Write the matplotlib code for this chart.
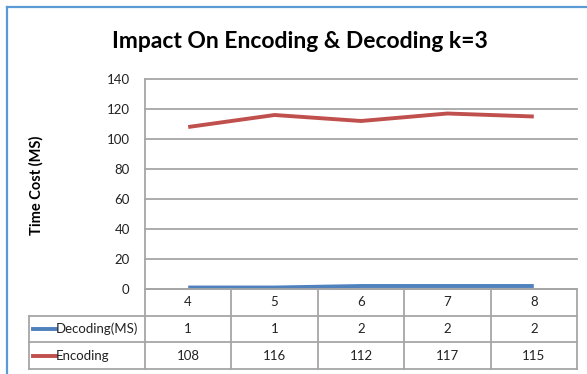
import matplotlib.pyplot as plt
from matplotlib.lines import Line2D

# Chart data
k_values = ['4', '5', '6', '7', '8']
decoding_ms = [1, 1, 2, 2, 2]
encoding_ms = [108, 116, 112, 117, 115]
series_names = ['Decoding(MS)', 'Encoding']
y_ticks = [0, 20, 40, 60, 80, 100, 120, 140]

title_text = 'Impact On Encoding & Decoding k=3'
ylabel_text = 'Time Cost (MS)'

BLUE = '#4F81BD'
RED = '#C0504D'
GRID = '#A6A6A6'
FONT = ['Lato', 'DejaVu Sans']

W, H = 587, 374
fig = plt.figure(figsize=(W / 100, H / 100), dpi=100)


def box(left, top, right, bottom):
    return [left / W, 1 - bottom / H, (right - left) / W, (bottom - top) / H]


# Outer chart frame
fig.add_artist(Line2D([6.5 / W, 6.5 / W], [0, 1 - 6.5 / H], color='#5B9BD5', lw=1.6))
fig.add_artist(Line2D([6.5 / W, 1], [1 - 6.5 / H, 1 - 6.5 / H], color='#5B9BD5', lw=1.6))

# Plot area
ax = fig.add_axes(box(145, 79, 577, 289))
xs = list(range(len(k_values)))
ax.plot(xs, encoding_ms, color=RED, lw=2.8, solid_capstyle='butt', zorder=3)
ax.plot(xs, decoding_ms, color=BLUE, lw=2.8, solid_capstyle='butt', zorder=3)
ax.set_xlim(-0.5, len(k_values) - 0.5)
ax.set_ylim(0, 140)
ax.set_yticks(y_ticks)
ax.set_yticklabels([str(v) for v in y_ticks], fontfamily=FONT, fontsize=9.5, color='#222222')
ax.set_xticks([])
ax.grid(axis='y', color=GRID, lw=1.3, clip_on=False)
ax.set_axisbelow(True)
for s in ('top', 'right', 'bottom'):
    ax.spines[s].set_visible(False)
ax.spines['left'].set_color(GRID)
ax.spines['left'].set_linewidth(1.3)
ax.tick_params(axis='y', length=0, pad=11)

# Data table under the plot
tab = fig.add_axes(box(29, 289, 577, 369))
n = len(k_values)
col_w = (577 - 145) / n
xmin = -0.5 - (145 - 29) / col_w
tab.set_xlim(xmin, n - 0.5)
tab.set_ylim(3, 0)
tab.axis('off')

line_kw = dict(color=GRID, lw=1.3, clip_on=False)
tab.plot([-0.5, n - 0.5], [0, 0], **line_kw)
for r in (1, 2, 3):
    tab.plot([xmin, n - 0.5], [r, r], **line_kw)
for c in range(n + 1):
    tab.plot([c - 0.5, c - 0.5], [0, 3], **line_kw)
tab.plot([xmin, xmin], [1, 3], **line_kw)

txt_kw = dict(ha='center', va='center', fontsize=9.5, fontfamily=FONT, color='#222222')
for i, k in enumerate(k_values):
    tab.text(i, 0.5, k, **txt_kw)
for row, (vals, name, color) in enumerate(
        [(decoding_ms, series_names[0], BLUE), (encoding_ms, series_names[1], RED)], start=1):
    for i, v in enumerate(vals):
        tab.text(i, row + 0.5, str(v), **txt_kw)
    x0 = xmin + (33 - 29) / col_w
    x1 = xmin + (56 - 29) / col_w
    tab.plot([x0, x1], [row + 0.5, row + 0.5], color=color, lw=2.8, clip_on=False)
    tab.text(x1, row + 0.5, name, ha='left', va='center', fontsize=9.5,
             fontfamily=FONT, color='#222222')

# Titles
fig.text(300 / W, 1 - 41 / H, title_text, ha='center', va='center',
         fontsize=16.5, fontweight='bold', fontfamily=FONT, color='black')
fig.text(36 / W, 1 - 185 / H, ylabel_text, ha='center', va='center', rotation=90,
         fontsize=10.5, fontweight='bold', fontfamily=FONT, color='black')

fig.savefig('out.png', dpi=100)
